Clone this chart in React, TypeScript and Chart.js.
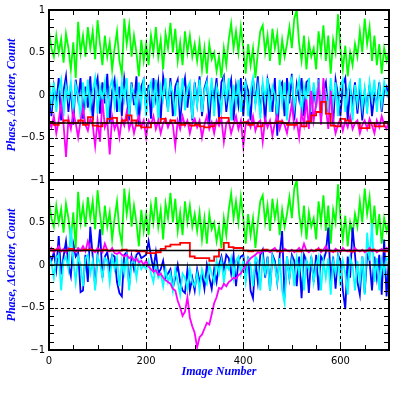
import React, { useEffect, useRef } from "react";
import { Chart, registerables } from "chart.js";
Chart.register(...registerables);

// ---------- data (Image Number step 5 for noisy series, step 10 for red) ----------
const GREEN = [
  0.75,0.55,0.45,0.7,0.5,0.66,0.38,0.72,0.55,0.3,
  0.62,0.2,0.86,0.5,0.7,0.45,0.8,0.55,0.75,0.42,
  0.88,0.6,0.35,0.7,0.45,0.62,0.3,0.55,0.75,0.4,
  0.25,0.9,0.6,0.82,0.45,0.7,0.5,0.22,0.65,0.4,
  0.6,0.35,0.7,0.5,0.8,0.45,0.65,0.3,0.72,0.55,
  0.85,0.5,0.78,0.4,0.62,0.35,0.75,0.5,0.7,0.45,
  0.6,0.4,0.62,0.3,0.55,0.25,0.6,0.42,0.5,0.28,
  0.45,0.2,0.55,0.35,0.65,0.84,0.55,0.75,0.5,0.8,
  0.55,0.25,0.6,0.35,0.55,0.2,0.5,0.75,0.82,0.5,
  0.7,0.4,0.78,0.55,0.72,0.35,0.65,0.45,0.6,0.8,
  0.55,0.9,1.0,0.6,0.4,0.7,0.3,0.62,0.45,0.55,
  0.3,0.75,0.5,0.82,0.4,0.7,0.25,0.65,0.5,0.95,
  0.55,0.3,0.58,0.22,0.5,0.35,0.6,0.45,0.75,0.5,
  0.9,0.6,0.8,0.4,0.7,0.35,0.6,0.25,0.55,0.4,0.5,
];

const BLUE_TOP = [
  0.15,-0.25,0.1,-0.1,0.2,-0.3,0.05,0.22,-0.2,0.12,
  -0.35,0.18,-0.05,0.2,-0.28,0.1,-0.15,0.22,-0.3,0.08,
  0.2,-0.22,0.15,-0.1,0.25,-0.32,0.05,0.18,-0.2,0.1,
  -0.25,0.2,0.0,-0.3,0.15,-0.12,0.22,-0.35,0.1,0.18,
  -0.2,0.12,-0.28,0.2,-0.05,0.15,-0.3,0.22,0.05,-0.18,
  0.2,-0.25,0.1,0.18,-0.32,0.05,0.2,-0.15,0.12,-0.3,
  0.15,-0.1,0.22,-0.25,0.08,0.18,-0.35,0.12,-0.05,0.2,
  -0.28,0.15,0.22,-0.2,0.05,0.18,-0.3,0.1,-0.12,0.2,
  -0.25,0.15,0.05,-0.3,0.2,-0.1,0.22,-0.22,0.12,-0.35,
  0.18,0.05,-0.2,0.2,-0.48,0.1,0.15,-0.25,0.2,-0.1,
  0.25,-0.3,0.12,-0.05,0.2,-0.25,0.15,0.18,-0.32,0.1,
  -0.15,0.2,-0.28,0.05,0.15,-0.2,0.1,-0.35,0.18,0.0,
  -0.25,0.12,0.2,-0.3,0.08,-0.1,0.15,-0.22,0.1,-0.3,
  0.05,-0.15,0.12,-0.25,0.0,-0.1,0.15,-0.2,0.05,0.1,-0.05,
];

const CYAN_TOP = [
  0.2,-0.1,0.15,-0.2,0.05,0.18,-0.25,0.1,-0.05,0.15,
  -0.2,0.12,0.0,-0.28,0.15,-0.1,0.18,-0.15,0.05,0.2,
  -0.22,0.1,-0.05,0.15,-0.3,0.08,0.18,-0.12,0.12,-0.2,
  0.15,-0.05,0.2,-0.25,0.1,0.0,-0.18,0.15,-0.1,0.2,
  -0.25,0.05,0.15,-0.15,0.18,-0.3,0.1,-0.05,0.2,-0.2,
  0.12,0.02,-0.25,0.15,-0.1,0.2,-0.18,0.08,0.15,-0.28,
  0.1,-0.12,0.18,-0.2,0.05,0.15,-0.1,0.2,-0.25,0.1,
  0.0,-0.18,0.15,-0.05,0.2,-0.3,0.12,-0.1,0.18,-0.2,
  0.08,0.15,-0.25,0.05,0.2,-0.12,0.1,-0.28,0.15,-0.05,
  0.2,-0.2,0.1,0.0,-0.22,0.18,-0.1,0.15,-0.3,0.12,
  0.2,-0.15,0.05,0.18,-0.25,0.1,-0.05,0.2,-0.2,0.15,
  -0.1,0.18,-0.28,0.12,0.02,-0.18,0.2,-0.1,0.15,-0.25,
  0.1,0.18,-0.2,0.05,0.15,-0.3,0.12,-0.1,0.2,-0.15,
  0.08,-0.22,0.15,-0.05,0.18,-0.2,0.1,-0.12,0.15,0.0,0.05,
];

const MAGENTA_TOP = [
  -0.3,-0.38,-0.25,-0.45,-0.3,-0.1,-0.35,-0.73,-0.28,-0.4,
  -0.2,-0.33,-0.5,-0.3,-0.15,-0.35,-0.42,-0.28,-0.35,-0.6,
  -0.3,-0.55,-0.05,-0.38,-0.3,-0.7,-0.25,-0.4,-0.32,-0.5,
  -0.28,-0.36,-0.2,-0.4,-0.3,-0.45,-0.33,-0.25,-0.38,-0.3,
  -0.5,-0.3,-0.35,-0.25,-0.4,-0.3,-0.45,-0.33,-0.28,-0.38,
  -0.3,-0.35,-0.6,-0.3,-0.4,-0.25,-0.36,-0.3,-0.45,-0.33,
  -0.28,-0.38,-0.3,-0.5,-0.35,-0.25,-0.4,-0.32,-0.45,-0.3,
  -0.36,-0.28,-0.55,-0.33,-0.3,-0.45,-0.35,-0.25,-0.4,-0.3,
  -0.6,-0.35,-0.3,-0.38,-0.25,-0.42,-0.33,-0.3,-0.55,-0.28,
  -0.38,-0.3,-0.48,-0.33,-0.25,-0.4,-0.3,-0.35,-0.45,-0.28,
  -0.1,-0.38,-0.3,-0.5,-0.2,-0.35,-0.05,-0.4,0.05,-0.3,
  -0.1,0.1,-0.35,0.2,-0.15,-0.4,0.05,-0.3,-0.45,-0.35,
  -0.28,-0.42,-0.3,-0.38,-0.25,-0.4,-0.33,-0.3,-0.45,-0.35,
  -0.3,-0.4,-0.28,-0.36,-0.45,-0.3,-0.38,-0.25,-0.35,-0.4,-0.3,
];

const RED_TOP = [
  -0.33,-0.35,-0.33,-0.3,-0.33,-0.33,-0.3,-0.35,-0.26,-0.36,
  -0.37,-0.33,-0.28,-0.27,-0.33,-0.3,-0.24,-0.3,-0.36,-0.38,
  -0.38,-0.33,-0.33,-0.28,-0.33,-0.3,-0.33,-0.35,-0.33,-0.36,
  -0.35,-0.37,-0.38,-0.37,-0.33,-0.27,-0.27,-0.33,-0.33,-0.33,
  -0.32,-0.35,-0.33,-0.37,-0.33,-0.33,-0.33,-0.31,-0.33,-0.35,
  -0.35,-0.33,-0.37,-0.31,-0.24,-0.2,-0.08,-0.22,-0.36,-0.37,
  -0.28,-0.3,-0.33,-0.33,-0.39,-0.39,-0.33,-0.37,-0.37,-0.33,-0.33,
];

const BLUE_BOTTOM = [
  0.12,0.05,0.15,-0.05,0.34,-0.11,0.1,0.28,0.0,-0.13,
  0.25,0.1,0.15,-0.32,-0.3,0.12,-0.2,0.45,0.1,-0.25,
  0.12,0.42,-0.15,0.1,0.15,-0.05,0.12,0.1,-0.2,-0.33,
  -0.37,0.12,0.15,-0.25,0.1,-0.05,0.12,0.15,0.08,0.1,
  0.12,0.28,0.1,-0.05,0.15,-0.1,-0.05,0.05,-0.15,-0.1,
  -0.05,-0.27,-0.15,0.0,-0.2,-0.3,-0.33,-0.05,-0.3,-0.15,
  -0.3,-0.05,-0.2,-0.1,-0.28,0.0,-0.15,-0.28,-0.05,-0.2,
  0.0,0.1,-0.05,0.12,0.08,-0.1,0.12,-0.25,0.05,0.1,
  0.12,-0.15,0.1,-0.3,-0.39,0.05,-0.2,0.12,0.18,-0.15,
  0.1,-0.3,0.12,0.05,-0.2,0.12,0.4,-0.38,0.1,-0.15,
  0.12,0.05,-0.25,0.1,-0.39,0.12,0.05,-0.33,0.1,-0.2,
  0.12,-0.3,0.1,0.05,0.15,0.44,-0.2,0.1,-0.28,0.12,
  0.05,-0.3,-0.52,0.1,-0.15,0.44,0.12,-0.2,-0.35,0.1,
  -0.33,0.12,0.05,-0.3,0.1,-0.15,0.12,-0.35,0.3,-0.37,0.1,
];

const CYAN_BOTTOM = [
  0.1,0.02,-0.15,0.08,0.12,-0.3,0.05,0.1,-0.05,0.45,
  0.05,-0.2,0.1,0.0,-0.25,0.08,0.12,-0.1,0.05,-0.3,
  0.1,0.02,-0.15,0.08,0.05,-0.2,0.1,-0.05,0.08,-0.25,
  0.05,-0.1,0.1,-0.3,0.02,0.08,-0.15,0.05,-0.05,0.0,
  -0.05,0.05,-0.1,-0.2,0.0,-0.15,-0.1,-0.25,-0.05,-0.2,
  -0.1,-0.3,-0.05,-0.2,-0.35,-0.1,-0.15,-0.28,-0.05,-0.2,
  -0.25,-0.1,-0.3,-0.05,-0.15,-0.22,0.0,-0.1,-0.2,0.05,
  -0.1,0.05,-0.2,0.0,-0.05,0.08,-0.15,0.05,0.1,-0.1,
  0.05,-0.2,0.08,0.0,-0.25,0.1,0.05,-0.3,0.08,-0.1,
  0.05,-0.3,0.1,0.0,-0.2,0.08,-0.3,-0.45,0.1,-0.15,
  0.05,-0.25,0.08,-0.1,0.1,-0.3,0.05,-0.05,0.08,-0.2,
  0.0,0.1,-0.3,0.05,-0.15,0.08,-0.35,0.05,-0.1,0.1,
  -0.25,0.05,-0.1,-0.35,0.08,0.0,-0.3,0.05,-0.2,0.1,
  -0.35,0.38,0.05,0.49,-0.2,0.08,-0.3,0.05,-0.1,0.08,0.05,
];

const MAGENTA_BOTTOM = [
  0.17,0.2,0.15,0.18,0.22,0.16,0.19,0.15,0.2,0.17,
  0.18,0.15,0.2,0.17,0.22,0.16,0.28,0.2,0.17,0.15,
  0.2,0.18,0.15,0.25,0.17,0.16,0.2,0.14,0.13,0.15,
  0.12,0.1,0.12,0.08,0.1,0.05,0.08,0.03,0.05,0.0,
  0.05,-0.02,-0.05,-0.08,-0.06,-0.12,-0.1,-0.15,-0.18,-0.2,
  -0.22,-0.28,-0.3,-0.42,-0.5,-0.6,-0.55,-0.38,-0.62,-0.72,
  -0.8,-0.97,-0.85,-0.82,-0.75,-0.68,-0.7,-0.58,-0.45,-0.38,
  -0.27,-0.28,-0.22,-0.25,-0.2,-0.18,-0.15,-0.16,-0.12,-0.1,
  -0.05,0.0,0.04,0.08,0.1,0.12,0.15,0.14,0.17,0.16,
  0.17,0.15,0.18,0.2,0.16,0.17,0.15,0.19,0.17,0.16,
  0.18,0.15,0.17,0.2,0.16,0.25,0.17,0.15,0.18,0.16,
  0.17,0.2,0.15,0.18,0.22,0.16,0.17,0.15,0.19,0.17,
  0.15,0.2,0.17,0.16,0.18,0.15,0.2,0.17,0.16,0.18,
  0.15,0.17,0.2,0.16,0.18,0.15,0.17,0.19,0.16,0.2,0.18,
];

const RED_BOTTOM = [
  0.17,0.18,0.17,0.17,0.19,0.17,0.17,0.18,0.18,0.17,
  0.17,0.18,0.17,0.17,0.17,0.18,0.17,0.17,0.16,0.16,
  0.14,0.14,0.15,0.19,0.22,0.24,0.24,0.26,0.26,0.1,
  0.08,0.08,0.08,0.05,0.1,0.18,0.26,0.21,0.2,0.2,
  0.17,0.16,0.17,0.17,0.18,0.17,0.17,0.16,0.17,0.17,
  0.17,0.16,0.17,0.17,0.17,0.18,0.17,0.17,0.16,0.17,
  0.17,0.17,0.16,0.17,0.17,0.17,0.18,0.17,0.17,0.16,0.17,
];

const NOISE_STEP = 5;
const RED_STEP = 10;
const X_TICKS = [0, 200, 400, 600];
const Y_TICKS = [-1, -0.5, 0, 0.5, 1];
const REF_TOP = [-0.33];
const REF_BOTTOM = [0, 0.17];
const Y_TITLE = "Phase, \u0394Center, Count";
const X_TITLE = "Image Number";

// ---------- helpers ----------
const toPoints = (vals: number[], step: number) => vals.map((v, i) => ({ x: i * step, y: v }));

const ds = (label: string, vals: number[], step: number, color: string, width: number, stepped: boolean) => ({
  label,
  data: toPoints(vals, step),
  borderColor: color,
  backgroundColor: color,
  borderWidth: width,
  pointRadius: 0,
  stepped,
  tension: 0,
  fill: false,
});

const fmt = (v: number) => String(v).replace("-", "\u2212");

function framePlugin(dottedY: number[], solidY: number[]) {
  return {
    id: "frame",
    afterDatasetsDraw(chart: any) {
      const { ctx, chartArea: a, scales } = chart;
      const xs = scales.x, ys = scales.y;
      ctx.save();
      ctx.strokeStyle = "#000";
      const line = (x1: number, y1: number, x2: number, y2: number) => {
        ctx.beginPath(); ctx.moveTo(x1, y1); ctx.lineTo(x2, y2); ctx.stroke();
      };
      ctx.lineWidth = 1;
      ctx.setLineDash([3, 3]);
      for (const v of [200, 400, 600]) {
        const px = Math.round(xs.getPixelForValue(v)) + 0.5;
        line(px, a.top, px, a.bottom);
      }
      for (const v of dottedY) {
        const py = Math.round(ys.getPixelForValue(v)) + 0.5;
        line(a.left, py, a.right, py);
      }
      ctx.setLineDash([]);
      ctx.lineWidth = 1.5;
      for (const v of solidY) {
        const py = ys.getPixelForValue(v);
        line(a.left, py, a.right, py);
      }
      ctx.lineWidth = 1;
      for (let k = -10; k <= 10; k++) {
        const py = Math.round(ys.getPixelForValue(k / 10)) + 0.5;
        line(a.left, py, a.left + 5, py);
        line(a.right - 5, py, a.right, py);
      }
      for (let k = 0; k <= 14; k++) {
        const px = Math.round(xs.getPixelForValue(k * 50)) + 0.5;
        line(px, a.top, px, a.top + 5);
        line(px, a.bottom - 5, px, a.bottom);
      }
      ctx.lineWidth = 2;
      ctx.strokeRect(a.left, a.top, a.right - a.left, a.bottom - a.top);
      ctx.restore();
    },
  };
}

function makeConfig(top: boolean): any {
  const datasets = top
    ? [
        ds("Red", RED_TOP, RED_STEP, "#ff0000", 1.8, true),
        ds("Magenta", MAGENTA_TOP, NOISE_STEP, "#ff00ff", 1.8, false),
        ds("Cyan", CYAN_TOP, NOISE_STEP, "#00ffff", 1.8, false),
        ds("Blue", BLUE_TOP, NOISE_STEP, "#0000ff", 1.8, false),
        ds("Green", GREEN, NOISE_STEP, "#00ff00", 1.8, false),
      ]
    : [
        ds("Red", RED_BOTTOM, RED_STEP, "#ff0000", 1.8, true),
        ds("Magenta", MAGENTA_BOTTOM, NOISE_STEP, "#ff00ff", 1.8, false),
        ds("Cyan", CYAN_BOTTOM, NOISE_STEP, "#00ffff", 1.8, false),
        ds("Blue", BLUE_BOTTOM, NOISE_STEP, "#0000ff", 1.8, false),
        ds("Green", GREEN, NOISE_STEP, "#00ff00", 1.8, false),
      ];
  const tickFont = { family: "DejaVu Sans", size: 10 };
  const titleFont = { family: "Liberation Serif", size: 12, style: "italic", weight: "bold" };
  return {
    type: "line",
    data: { datasets },
    plugins: [framePlugin(top ? [0.5, 0, -0.5] : [0.5, -0.5], top ? REF_TOP : REF_BOTTOM)],
    options: {
      responsive: false,
      animation: false,
      events: [],
      layout: { padding: top ? { left: 0, right: 10, top: 10, bottom: 10 } : { left: 0, right: 10, top: 10, bottom: 0 } },
      plugins: { legend: { display: false }, tooltip: { enabled: false } },
      scales: {
        x: {
          type: "linear",
          min: 0,
          max: 700,
          display: !top,
          grid: { display: false, drawTicks: false },
          border: { display: false },
          afterBuildTicks: (s: any) => { s.ticks = X_TICKS.map((v) => ({ value: v })); },
          afterFit: (s: any) => { s.height = top ? 0 : 49; },
          ticks: { padding: 5, font: tickFont, color: "#000", maxRotation: 0, autoSkip: false },
          title: { display: true, text: X_TITLE, color: "#0000ff", font: titleFont, padding: { top: 0, bottom: 20 } },
        },
        y: {
          type: "linear",
          min: -1,
          max: 1,
          grid: { display: false, drawTicks: false },
          border: { display: false },
          afterBuildTicks: (s: any) => { s.ticks = Y_TICKS.map((v) => ({ value: v })); },
          afterFit: (s: any) => { s.width = 49; },
          ticks: {
            padding: 4,
            font: tickFont,
            color: "#000",
            autoSkip: false,
            callback: (v: number) => (top || v !== 1 ? fmt(v) : ""),
          },
          title: { display: true, text: Y_TITLE, color: "#0000ff", font: titleFont, padding: { top: 5, bottom: 0 } },
        },
      },
    },
  };
}

export default function App() {
  const r1 = useRef<HTMLCanvasElement>(null);
  const r2 = useRef<HTMLCanvasElement>(null);
  useEffect(() => {
    document.body.style.margin = "0";
    const c1 = new Chart(r1.current as HTMLCanvasElement, makeConfig(true));
    const c2 = new Chart(r2.current as HTMLCanvasElement, makeConfig(false));
    return () => { c1.destroy(); c2.destroy(); };
  }, []);
  return (
    <div style={{ position: "fixed", left: 0, top: 0, width: 399, height: 399, background: "#fff" }}>
      <canvas ref={r1} width={399} height={190} style={{ position: "absolute", left: 0, top: 0 }} />
      <canvas ref={r2} width={399} height={229} style={{ position: "absolute", left: 0, top: 170 }} />
    </div>
  );
}
